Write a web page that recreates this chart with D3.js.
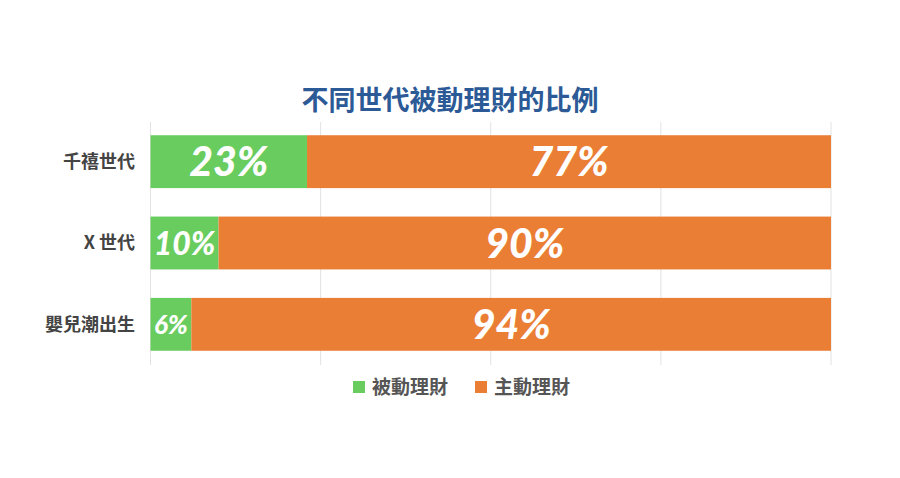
<!DOCTYPE html>
<html><head><meta charset="utf-8">
<script src="https://cdn.jsdelivr.net/npm/d3@7"></script>
<style>
html,body{margin:0;padding:0;background:#fff;}
svg{display:block;}
</style></head>
<body>
<svg id="chart" width="900" height="478"></svg>
<script>
const title = "不同世代被動理財的比例";
const categories = ["千禧世代", "X 世代", "嬰兒潮出生"];
const seriesNames = ["被動理財", "主動理財"];
const passive = [23, 10, 6];
const active = [77, 90, 94];
const xTicks = [0, 25, 50, 75, 100];
const colors = ["#69cc5e", "#ea7e35"];

const svg = d3.select("#chart");
const cjk = "'Noto Sans CJK TC','Noto Sans CJK SC',sans-serif";
const numFont = "Lato,'Open Sans',sans-serif";

const x = d3.scaleLinear().domain([0, 100]).range([150.5, 831]);
const y = d3.scaleBand().domain(categories).range([121, 365]).paddingInner(0.35).paddingOuter(0.175);

// gridlines
svg.append("g").selectAll("line").data(xTicks).join("line")
  .attr("x1", d => x(d)).attr("x2", d => x(d))
  .attr("y1", 122).attr("y2", 365)
  .attr("stroke", "#e2e2e2").attr("stroke-width", 1);

// title
svg.append("text").attr("x", 450).attr("y", 110)
  .attr("text-anchor", "middle")
  .attr("font-family", cjk).attr("font-weight", 700).attr("font-size", 27)
  .attr("fill", "#2c5a96").text(title);

// category labels
svg.append("g").selectAll("text").data(categories).join("text")
  .attr("x", 135).attr("y", d => y(d) + y.bandwidth() / 2)
  .attr("dy", "0.35em").attr("text-anchor", "end")
  .attr("font-family", cjk).attr("font-weight", 700).attr("font-size", 18)
  .attr("fill", "#444").text(d => d);

const stackData = categories.map((c, i) => ({cat: c, vals: [passive[i], active[i]]}));
const segs = [];
stackData.forEach(d => {
  let acc = 0;
  d.vals.forEach((v, k) => { segs.push({cat: d.cat, k, v, x0: acc, x1: acc + v}); acc += v; });
});

svg.append("g").selectAll("rect").data(segs).join("rect")
  .attr("x", d => x(d.x0)).attr("width", d => x(d.x1) - x(d.x0))
  .attr("y", d => y(d.cat)).attr("height", y.bandwidth())
  .attr("fill", d => colors[d.k]);

const labels = svg.append("g").selectAll("text").data(segs).join("text")
  .attr("x", d => (x(d.x0) + x(d.x1)) / 2)
  .attr("y", d => y(d.cat) + y.bandwidth() / 2)
  .attr("dy", "0.36em").attr("text-anchor", "middle")
  .attr("font-family", numFont).attr("font-weight", 900).attr("font-style", "italic")
  .attr("fill", "#fff").attr("font-size", 41)
  .text(d => d.v + "%");

labels.each(function(d) {
  const w = x(d.x1) - x(d.x0) - 6;
  let fs = 41;
  while (fs > 8 && this.getComputedTextLength() > w) { fs -= 1; d3.select(this).attr("font-size", fs); }
});

// legend
const legend = svg.append("g");
const legX = [353, 475];
seriesNames.forEach((n, i) => {
  legend.append("rect").attr("x", legX[i]).attr("y", 381).attr("width", 12).attr("height", 12).attr("fill", colors[i]);
  legend.append("text").attr("x", legX[i] + 19).attr("y", 387).attr("dy", "0.36em")
    .attr("font-family", cjk).attr("font-weight", 700).attr("font-size", 19)
    .attr("fill", "#555").text(n);
});
</script>
</body></html>
